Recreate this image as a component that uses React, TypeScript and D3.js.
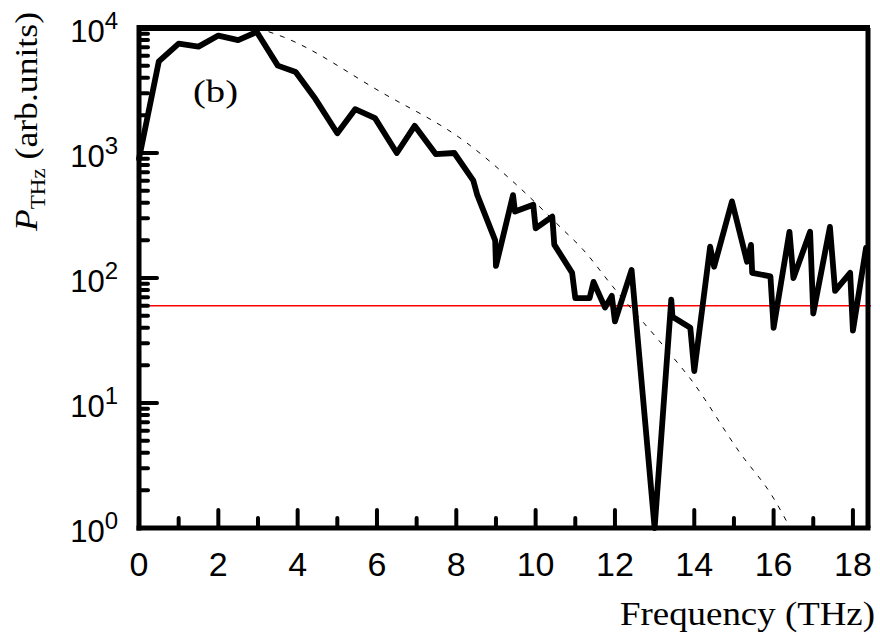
import React from "react";
import * as d3 from "d3";

// ---- data ----
const freq = [0, 0.5, 1.0, 1.5, 2.0, 2.5, 2.97, 3.5, 3.95, 4.45, 5.0, 5.45, 5.95, 6.5, 6.95, 7.48, 7.95, 8.43, 8.53, 8.98, 9.0, 9.43, 9.48, 9.94, 10.0, 10.42, 10.47, 10.92, 11.0, 11.36, 11.46, 11.75, 11.92, 12.0, 12.42, 13.0, 13.42, 13.45, 13.9, 14.0, 14.4, 14.5, 14.95, 15.33, 15.43, 15.46, 15.92, 16.0, 16.4, 16.5, 16.92, 17.0, 17.42, 17.55, 17.93, 18.0, 18.33];
const power = [900, 5400, 7500, 7100, 8700, 8000, 9300, 5000, 4450, 2700, 1440, 2240, 1900, 1000, 1650, 980, 1000, 600, 460, 200, 125, 460, 340, 385, 250, 310, 185, 110, 69, 69, 93, 58, 72, 45, 116, 1, 67, 49, 40, 18, 178, 123, 410, 135, 184, 110, 103, 40, 234, 100, 234, 52, 256, 79, 110, 38, 174];

const refFreq = [2.98, 3.64, 6.08, 8.27, 9.43, 10.62, 11.2, 11.95, 13.46, 13.89, 15.15, 15.98, 16.42];
const refPower = [10000, 8470, 3100, 1200, 590, 256, 168, 85, 23.3, 15.8, 4.0, 1.77, 1.0];

const thresholdValue = 60;

const xTicksMajor = [0, 2, 4, 6, 8, 10, 12, 14, 16, 18];
const xTicksMinor = [1, 3, 5, 7, 9, 11, 13, 15, 17];
const yDecades = [0, 1, 2, 3, 4];

export default function App() {
  const left = 139, right = 868, top = 28, bottom = 528;
  const x = d3.scaleLinear().domain([0, 18.38]).range([left, right]);
  const y = d3.scaleLog().domain([1, 10000]).range([bottom, top]);

  const line = d3.line<number>().x((_, i) => x(freq[i])).y((_, i) => y(power[i]));
  const refLine = d3.line<number>().x((_, i) => x(refFreq[i])).y((_, i) => y(refPower[i])).curve(d3.curveMonotoneX);

  const minorY: number[] = [];
  yDecades.slice(0, -1).forEach((d) => {
    for (let k = 2; k <= 9; k++) minorY.push(k * Math.pow(10, d));
  });

  const sans = "'Liberation Sans', Arial, sans-serif";
  const serif = "'Liberation Serif', 'Times New Roman', serif";

  return (
    <svg width={880} height={640} style={{ position: "absolute", left: 0, top: 0, background: "#fff" }}>
      <rect x={0} y={0} width={880} height={640} fill="#fff" />
      {/* threshold red line */}
      <line x1={left} x2={right + 3} y1={y(thresholdValue)} y2={y(thresholdValue)} stroke="#ff0000" strokeWidth={1.3} />
      {/* reference dashed curve */}
      <path d={refLine(refFreq) || ""} fill="none" stroke="#000" strokeWidth={1} strokeDasharray="5,7" />
      {/* data line */}
      <path d={line(freq) || ""} fill="none" stroke="#000" strokeWidth={5.8} strokeLinejoin="round" strokeLinecap="round" />
      {/* frame */}
      <line x1={left} x2={right + 2} y1={top} y2={top} stroke="#000" strokeWidth={6} />
      <line x1={right} x2={right} y1={top} y2={bottom} stroke="#000" strokeWidth={5} />
      <line x1={left} x2={left} y1={top - 3} y2={bottom + 2.5} stroke="#000" strokeWidth={5} />
      <line x1={left - 2.5} x2={right + 2.5} y1={bottom} y2={bottom} stroke="#000" strokeWidth={5} />
      {/* y ticks */}
      {yDecades.map((d) => (
        <line key={"ym" + d} x1={left} x2={left + 18} y1={y(Math.pow(10, d))} y2={y(Math.pow(10, d))} stroke="#000" strokeWidth={4} strokeLinecap="round" />
      ))}
      {minorY.map((v) => (
        <line key={"yn" + v} x1={left} x2={left + 9} y1={y(v)} y2={y(v)} stroke="#000" strokeWidth={4} strokeLinecap="round" />
      ))}
      {/* x ticks */}
      {xTicksMajor.map((v) => (
        <line key={"xm" + v} x1={x(v)} x2={x(v)} y1={bottom} y2={bottom - 18} stroke="#000" strokeWidth={4} strokeLinecap="round" />
      ))}
      {xTicksMinor.map((v) => (
        <line key={"xn" + v} x1={x(v)} x2={x(v)} y1={bottom} y2={bottom - 10} stroke="#000" strokeWidth={4} strokeLinecap="round" />
      ))}
      {/* x tick labels */}
      {xTicksMajor.map((v) => (
        <text key={"xl" + v} x={x(v)} y={576} textAnchor="middle" fontFamily={sans} fontSize={34} fill="#000">{v}</text>
      ))}
      {/* y tick labels */}
      {yDecades.map((d) => (
        <text key={"yl" + d} x={118} y={y(Math.pow(10, d)) + 14} textAnchor="end" fontFamily={sans} fontSize={31} fill="#000">
          10<tspan fontSize={24} dy={-13}>{d}</tspan>
        </text>
      ))}
      {/* panel label */}
      <text x={193} y={102} fontFamily={serif} fontSize={32} fill="#000" textLength={45} lengthAdjust="spacingAndGlyphs">(b)</text>
      {/* x axis title */}
      <text x={620} y={625} fontFamily={serif} fontSize={34} fill="#000" textLength={255} lengthAdjust="spacingAndGlyphs">Frequency (THz)</text>
      {/* y axis title */}
      <text transform="translate(37,231) rotate(-90) scale(1.15,1)" fontFamily={serif} fontSize={31} fill="#000">
        <tspan fontStyle="italic">P</tspan>
        <tspan fontSize={20} dy={8}>THz</tspan>
        <tspan dy={-8}> (arb.units)</tspan>
      </text>
    </svg>
  );
}
